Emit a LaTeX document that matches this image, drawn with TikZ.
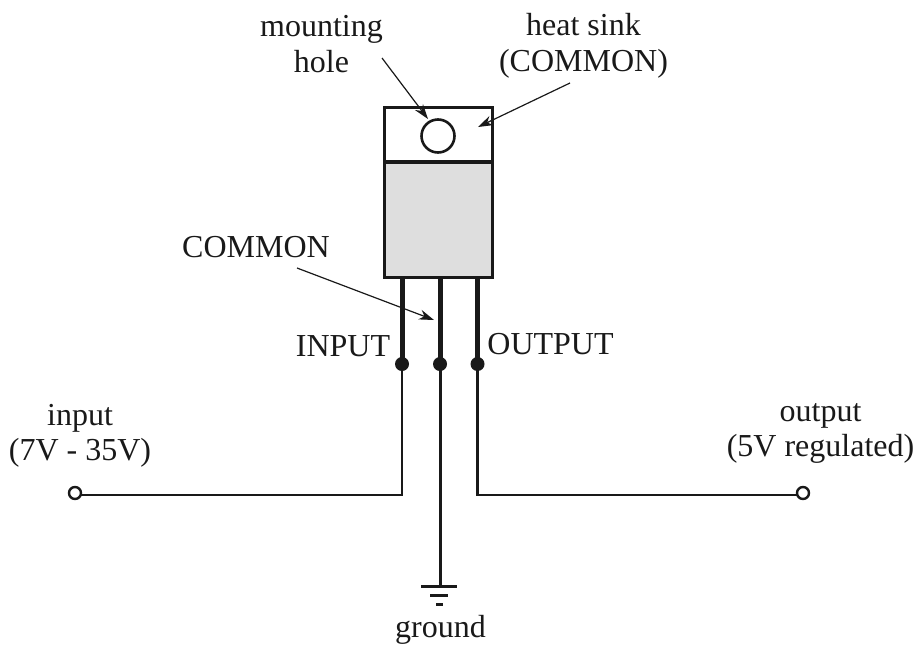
\documentclass[tikz,border=0pt]{standalone}
\usepackage{fontspec}
\setmainfont{Liberation Serif}
\usetikzlibrary{arrows.meta}
\tikzset{
 lbl/.style={font=\fontsize{32}{36}\selectfont,align=center,inner sep=0pt,text=black!90,anchor=base},
 lblb/.style={lbl,font=\fontsize{32}{35}\selectfont},
 ink/.style={draw=black!90},
 ptr/.style={ink,line width=1.2pt,-{Stealth[length=15pt,width=10pt]}},
 wire/.style={ink,line width=2.5pt},
 lead/.style={ink,line width=5pt},
 pad/.style={circle,fill=black!90,minimum size=14pt,inner sep=0pt},
 term/.style={circle,ink,fill=white,line width=2.4pt,minimum size=12pt,inner sep=0pt},
}
\begin{document}
\begin{tikzpicture}[x=1pt,y=-1pt]
\useasboundingbox (0,0) rectangle (915,646);
\fill[black!13] (384,162) rectangle (492,277);
\draw[ink,line width=3pt] (384,107) rectangle (492,277);
\draw[ink,line width=3.5pt] (384,162) -- (492,162);
\node[circle,ink,line width=2.6pt,minimum size=33pt,inner sep=0pt] (hole) at (438,136) {};
\coordinate (t1) at (402,277); \coordinate (t2) at (440,277); \coordinate (t3) at (477.5,277);
\node[pad] (p1) at (402,364) {};
\node[pad] (p2) at (440,364) {};
\node[pad] (p3) at (477.5,364) {};
\draw[lead] (t1) -- (p1.center);
\draw[lead] (t2) -- (p2.center);
\draw[lead] (t3) -- (p3.center);
\node[term] (in) at (75,493) {};
\node[term] (out) at (803,493) {};
\coordinate (g) at (440,586);
\coordinate (c1) at (402,495); \coordinate (c2) at (477.5,495);
\coordinate (e1) at (81,495); \coordinate (e2) at (797,495);
\draw[wire] (p1.center) -- (c1) -- (e1);
\draw[wire] (p3.center) -- (c2) -- (e2);
\draw[ink,line width=3pt] (p2.center) -- (g);
\coordinate (g1a) at (421,586); \coordinate (g1b) at (457,586);
\coordinate (g2a) at (430,595); \coordinate (g2b) at (448,595);
\coordinate (g3a) at (436,604); \coordinate (g3b) at (443,604);
\draw[ink,line width=3pt] (g1a) -- (g1b);
\draw[ink,line width=3pt] (g2a) -- (g2b);
\draw[ink,line width=3pt] (g3a) -- (g3b);
\node[lbl] (mh) at (321.5,72.5) {mounting\\hole};
\node[lbl] (hs) at (583.5,71) {heat sink\\(COMMON)};
\node[lbl] (cm) at (256,257) {COMMON};
\node[lbl] (ip) at (343,356) {INPUT};
\node[lbl] (op) at (550.5,354) {OUTPUT};
\node[lblb] (il) at (80,460) {input\\(7V - 35V)};
\node[lblb] (ol) at (820.5,456) {output\\(5V regulated)};
\node[lbl] (gl) at (440.5,637) {ground};
\coordinate (a1s) at (382,58); \coordinate (a1e) at (428,119);
\coordinate (a2s) at (570,83); \coordinate (a2e) at (478,127);
\coordinate (a3s) at (297,268); \coordinate (a3e) at (434,320);
\draw[ptr] (a1s) -- (a1e);
\draw[ptr] (a2s) -- (a2e);
\draw[ptr] (a3s) -- (a3e);
\end{tikzpicture}
\end{document}
